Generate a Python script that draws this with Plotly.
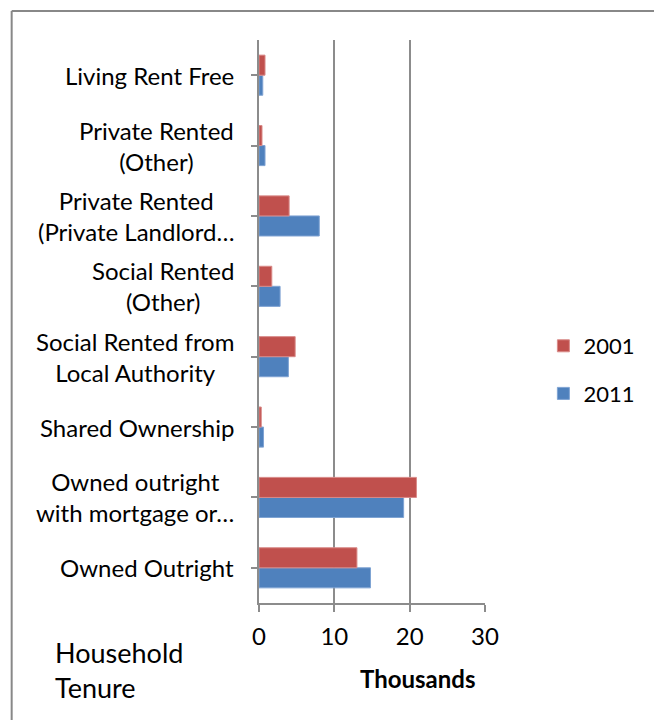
import plotly.graph_objects as go

categories = [
    "Owned Outright",
    "Owned outright<br>with mortgage or…",
    "Shared Ownership",
    "Social Rented from<br>Local Authority",
    "Social Rented<br>(Other)",
    "Private Rented<br>(Private Landlord…",
    "Private Rented<br>(Other)",
    "Living Rent Free",
]
values_2001 = [13.0, 20.9, 0.3, 4.8, 1.7, 4.0, 0.4, 0.8]
values_2011 = [14.8, 19.2, 0.6, 3.9, 2.8, 8.0, 0.8, 0.5]
x_ticks = [0, 10, 20, 30]

W, H = 654, 720
L, R, T, B = 259, 484.7, 40, 603
FONT = "Lato"
FS = 24
GRID = "#8c8c8c"
RED = "#C0504D"
BLUE = "#4F81BD"


def px(x):
    return (x - L) / (R - L)


def py(y):
    return (B - y) / (B - T)


fig = go.Figure()
fig.add_trace(go.Bar(
    y=list(range(len(categories))), x=values_2011, orientation="h", name="2011",
    marker=dict(color=BLUE, line=dict(color="#7fa3d3", width=1)),
    legendgroup="b", legendrank=2,
))
fig.add_trace(go.Bar(
    y=list(range(len(categories))), x=values_2001, orientation="h", name="2001",
    marker=dict(color=RED, line=dict(color="#d98a88", width=1)),
    legendgroup="a", legendrank=1,
))

annotations = []
for i, c in enumerate(categories):
    annotations.append(dict(
        x=px(236), xref="paper", y=i, yref="y", text=c, showarrow=False,
        xanchor="right", yanchor="middle", align="center",
        font=dict(family=FONT, size=FS, color="#000000"),
    ))
annotations.append(dict(
    x=px(417), xref="paper", y=py(678), yref="paper", text="<b>Thousands</b>",
    showarrow=False, xanchor="center", yanchor="middle",
    font=dict(family=FONT, size=FS, color="#000000"),
))
annotations.append(dict(
    x=px(53), xref="paper", y=py(670), yref="paper", text="Household<br>Tenure",
    showarrow=False, xanchor="left", yanchor="middle", align="left",
    font=dict(family=FONT, size=27, color="#000000"),
))

shapes = [
    dict(type="line", xref="paper", yref="paper", x0=px(12), x1=px(660), y0=py(11), y1=py(11),
         line=dict(color="#888888", width=2)),
    dict(type="line", xref="paper", yref="paper", x0=px(12), x1=px(12), y0=py(11), y1=py(730),
         line=dict(color="#888888", width=2)),
]

fig.update_layout(
    width=W, height=H,
    margin=dict(l=L, r=W - R, t=T, b=H - B),
    paper_bgcolor="white", plot_bgcolor="white",
    barmode="group", bargap=0.43, bargroupgap=0,
    font=dict(family=FONT, size=FS, color="#000000"),
    showlegend=True,
    legend=dict(
        x=px(543), y=py(325), xanchor="left", yanchor="top",
        traceorder="grouped", tracegroupgap=16,
        font=dict(family=FONT, size=22, color="#000000"),
        bgcolor="rgba(0,0,0,0)", itemwidth=30,
    ),
    xaxis=dict(
        range=[0, 30], tickvals=x_ticks, ticktext=[str(v) for v in x_ticks],
        showgrid=True, gridcolor=GRID, gridwidth=1.5,
        showline=True, linecolor=GRID, linewidth=1.5,
        ticks="outside", ticklen=7, tickcolor=GRID, tickwidth=1.5,
        zeroline=False, ticklabelstandoff=4,
        tickfont=dict(family=FONT, size=FS, color="#000000"),
    ),
    yaxis=dict(
        range=[-0.5, len(categories) - 0.5],
        tickvals=list(range(len(categories))),
        ticktext=["" for _ in categories],
        showgrid=False, zeroline=False,
        showline=True, linecolor=GRID, linewidth=1.5,
        ticks="outside", ticklen=6, tickcolor=GRID, tickwidth=1.5,
        tickson="boundaries", type="linear",
    ),
    annotations=annotations,
    shapes=shapes,
)

fig.write_html(
    "out.html",
    config={"displayModeBar": False},
    post_script="document.body.style.margin='0';document.body.style.overflow='hidden';",
)
